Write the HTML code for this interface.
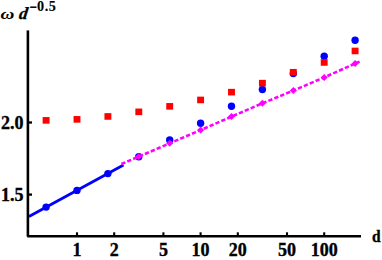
<!DOCTYPE html><html><head><meta charset="utf-8"><style>html,body{margin:0;padding:0;background:#fff}svg{display:block}text{font-family:"Liberation Serif",serif;font-weight:bold;fill:#000;stroke:#000;stroke-width:0.35px}</style></head><body>
<svg width="382" height="260" viewBox="0 0 382 260">
<rect width="382" height="260" fill="#fff"/>
<line x1="29" y1="216.4" x2="123.5" y2="164.9" stroke="#0000ff" stroke-width="2.8"/>
<circle cx="46.1" cy="207.1" r="3.7" fill="#0000ff"/>
<circle cx="77.0" cy="190.4" r="3.7" fill="#0000ff"/>
<circle cx="107.9" cy="173.6" r="3.7" fill="#0000ff"/>
<circle cx="138.8" cy="156.8" r="3.7" fill="#0000ff"/>
<circle cx="169.7" cy="140.0" r="3.7" fill="#0000ff"/>
<circle cx="200.6" cy="123.3" r="3.7" fill="#0000ff"/>
<circle cx="231.5" cy="106.2" r="3.7" fill="#0000ff"/>
<circle cx="262.4" cy="89.5" r="3.7" fill="#0000ff"/>
<circle cx="293.3" cy="73.5" r="3.7" fill="#0000ff"/>
<circle cx="324.2" cy="56.2" r="3.7" fill="#0000ff"/>
<circle cx="355.1" cy="40.2" r="3.7" fill="#0000ff"/>
<polyline fill="none" points="121.40,164.05 138.80,156.60 169.70,143.30 200.60,130.10 231.50,116.60 262.40,103.30 293.30,90.60 324.20,77.40 355.10,63.60 359.60,61.62" stroke="#ff00ff" stroke-width="2.6" stroke-dasharray="4.3 2.1"/>
<path d="M135.3 156.6L138.8 153.1L142.3 156.6L138.8 160.1Z" fill="#ff00ff"/>
<path d="M166.2 143.3L169.7 139.8L173.2 143.3L169.7 146.8Z" fill="#ff00ff"/>
<path d="M197.1 130.1L200.6 126.6L204.1 130.1L200.6 133.6Z" fill="#ff00ff"/>
<path d="M228.0 116.6L231.5 113.1L235.0 116.6L231.5 120.1Z" fill="#ff00ff"/>
<path d="M258.9 103.3L262.4 99.8L265.9 103.3L262.4 106.8Z" fill="#ff00ff"/>
<path d="M289.8 90.6L293.3 87.1L296.8 90.6L293.3 94.1Z" fill="#ff00ff"/>
<path d="M320.7 77.4L324.2 73.9L327.7 77.4L324.2 80.9Z" fill="#ff00ff"/>
<path d="M351.6 63.6L355.1 60.1L358.6 63.6L355.1 67.1Z" fill="#ff00ff"/>
<rect x="42.65" y="117.05" width="6.9" height="6.6" fill="#ff0000"/>
<rect x="73.55" y="116.05" width="6.9" height="6.6" fill="#ff0000"/>
<rect x="104.45" y="113.15" width="6.9" height="6.6" fill="#ff0000"/>
<rect x="135.35" y="108.55" width="6.9" height="6.6" fill="#ff0000"/>
<rect x="166.25" y="103.05" width="6.9" height="6.6" fill="#ff0000"/>
<rect x="197.15" y="96.65" width="6.9" height="6.6" fill="#ff0000"/>
<rect x="228.05" y="88.85" width="6.9" height="6.6" fill="#ff0000"/>
<rect x="258.95" y="79.85" width="6.9" height="6.6" fill="#ff0000"/>
<rect x="289.85" y="68.95" width="6.9" height="6.6" fill="#ff0000"/>
<rect x="320.75" y="59.15" width="6.9" height="6.6" fill="#ff0000"/>
<rect x="351.65" y="47.65" width="6.9" height="6.6" fill="#ff0000"/>
<line x1="27.9" y1="30.4" x2="27.9" y2="236.6" stroke="#000" stroke-width="2.6"/>
<line x1="27.3" y1="236.25" x2="361" y2="236.25" stroke="#000" stroke-width="2.5"/>
<line x1="77.0" y1="235.2" x2="77.0" y2="232.3" stroke="#000" stroke-width="2.1"/>
<text x="77.0" y="255.5" font-size="18" text-anchor="middle">1</text>
<line x1="114.2" y1="235.2" x2="114.2" y2="232.3" stroke="#000" stroke-width="2.1"/>
<text x="114.2" y="255.5" font-size="18" text-anchor="middle">2</text>
<line x1="163.4" y1="235.2" x2="163.4" y2="232.3" stroke="#000" stroke-width="2.1"/>
<text x="163.4" y="255.5" font-size="18" text-anchor="middle">5</text>
<line x1="200.6" y1="235.2" x2="200.6" y2="232.3" stroke="#000" stroke-width="2.1"/>
<text x="200.6" y="255.5" font-size="18" text-anchor="middle">10</text>
<line x1="237.8" y1="235.2" x2="237.8" y2="232.3" stroke="#000" stroke-width="2.1"/>
<text x="237.8" y="255.5" font-size="18" text-anchor="middle">20</text>
<line x1="287.0" y1="235.2" x2="287.0" y2="232.3" stroke="#000" stroke-width="2.1"/>
<text x="287.0" y="255.5" font-size="18" text-anchor="middle">50</text>
<line x1="324.2" y1="235.2" x2="324.2" y2="232.3" stroke="#000" stroke-width="2.1"/>
<text x="324.2" y="255.5" font-size="18" text-anchor="middle">100</text>
<line x1="29" y1="122.5" x2="32" y2="122.5" stroke="#000" stroke-width="2.3"/>
<text x="23.6" y="129.2" font-size="18" text-anchor="end">2.0</text>
<line x1="29" y1="194.6" x2="32" y2="194.6" stroke="#000" stroke-width="2.3"/>
<text x="23.6" y="201.29999999999998" font-size="18" text-anchor="end">1.5</text>
<text transform="translate(372.1 242.2) scale(0.88 1)" x="0" y="0" font-size="17.6">d</text>
<text transform="translate(0.6 18.5) scale(1.06 0.86)" x="0" y="0" font-size="18" font-style="italic" style="stroke-width:0.05px">ω</text>
<text transform="translate(18.4 18.5) skewX(-8)" x="0" y="0" font-size="17.2" font-style="italic">d</text>
<rect x="30.2" y="6.45" width="6.3" height="1.5" fill="#000"/><text x="37.0" y="10.6" font-size="14.2" letter-spacing="0.6" style="stroke-width:0.1px">0.5</text>
</svg></body></html>
